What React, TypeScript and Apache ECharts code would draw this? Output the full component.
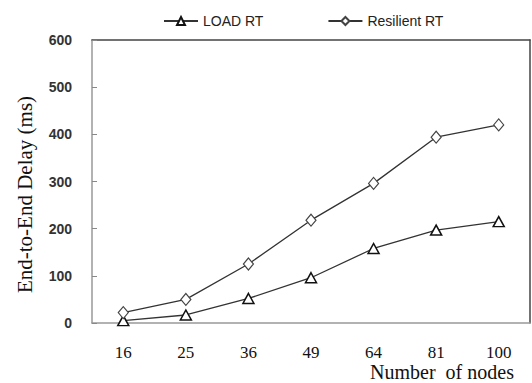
import React, { useEffect, useRef } from "react";
import * as echarts from "echarts";

const categories = ["16", "25", "36", "49", "64", "81", "100"];
const loadRT = [5, 17, 52, 96, 158, 197, 215];
const resilientRT = [22, 50, 125, 218, 296, 394, 420];
const seriesNames = ["LOAD RT", "Resilient RT"];

export default function App() {
  const ref = useRef<HTMLDivElement>(null);
  useEffect(() => {
    if (!ref.current) return;
    const chart = echarts.init(ref.current, null, { renderer: "svg" });
    chart.setOption({
      animation: false,
      backgroundColor: "#fff",
      grid: { left: 92, right: 2, top: 40, bottom: 60, outerBoundsMode: "none", containLabel: false },
      legend: {
        left: 158,
        top: 9,
        itemWidth: 34,
        itemHeight: 10,
        itemGap: 64,
        textStyle: { fontFamily: "Liberation Sans", fontSize: 14, color: "#222" },
        data: seriesNames,
      },
      xAxis: [
        {
          type: "category",
          data: categories,
          boundaryGap: true,
          axisLine: { onZero: false, lineStyle: { color: "#999", width: 1.5 } },
          axisTick: { alignWithLabel: true, inside: true, length: 5, lineStyle: { color: "#888" } },
          axisLabel: { fontFamily: "Liberation Serif", fontSize: 17, lineHeight: 17, color: "#111", margin: 21 },
          name: "Number  of nodes",
          nameLocation: "middle",
          nameGap: 39,
          nameMoveOverlap: false,
          nameTextStyle: {
            fontFamily: "Liberation Serif",
            fontSize: 20,
            lineHeight: 20,
            color: "#111",
            verticalAlign: "top",
            padding: [0, 0, 0, 262],
          },
        },
        {
          type: "category",
          position: "top",
          data: categories,
          axisLine: { show: true, onZero: false, lineStyle: { color: "#444", width: 1.5 } },
          axisTick: { show: false },
          axisLabel: { show: false },
        },
      ],
      yAxis: [
        {
          type: "value",
          min: 0,
          max: 600,
          interval: 100,
          splitLine: { show: false },
          axisLine: { show: true, onZero: false, lineStyle: { color: "#999", width: 1.5 } },
          axisTick: { show: true, inside: true, length: 5, lineStyle: { color: "#888" } },
          axisLabel: {
            fontFamily: "Liberation Sans",
            fontWeight: "bold",
            fontSize: 14,
            color: "#333",
            margin: 20,
          },
          name: "End-to-End Delay (ms)",
          nameLocation: "middle",
          nameGap: 57,
          nameMoveOverlap: false,
          nameTextStyle: {
            fontFamily: "Liberation Serif",
            fontSize: 21,
            color: "#111",
            padding: [0, 26, 0, 0],
          },
        },
        {
          type: "value",
          position: "right",
          min: 0,
          max: 600,
          interval: 100,
          splitLine: { show: false },
          axisLine: { show: true, onZero: false, lineStyle: { color: "#444", width: 1.5 } },
          axisTick: { show: false },
          axisLabel: { show: false },
        },
      ],
      series: [
        {
          name: seriesNames[0],
          type: "line",
          data: loadRT,
          symbol: "triangle",
          symbolSize: [11, 10],
          showAllSymbol: true,
          lineStyle: { color: "#333", width: 1.3 },
          itemStyle: { color: "#fff", borderColor: "#111", borderWidth: 1.5 },
        },
        {
          name: seriesNames[1],
          type: "line",
          data: resilientRT,
          symbol: "diamond",
          symbolSize: [10, 12],
          showAllSymbol: true,
          lineStyle: { color: "#333", width: 1.3 },
          itemStyle: { color: "#fff", borderColor: "#444", borderWidth: 1.2 },
        },
      ],
    });
    return () => chart.dispose();
  }, []);
  return <div ref={ref} style={{ width: 532, height: 383, position: "absolute", left: 0, top: 0 }} />;
}
